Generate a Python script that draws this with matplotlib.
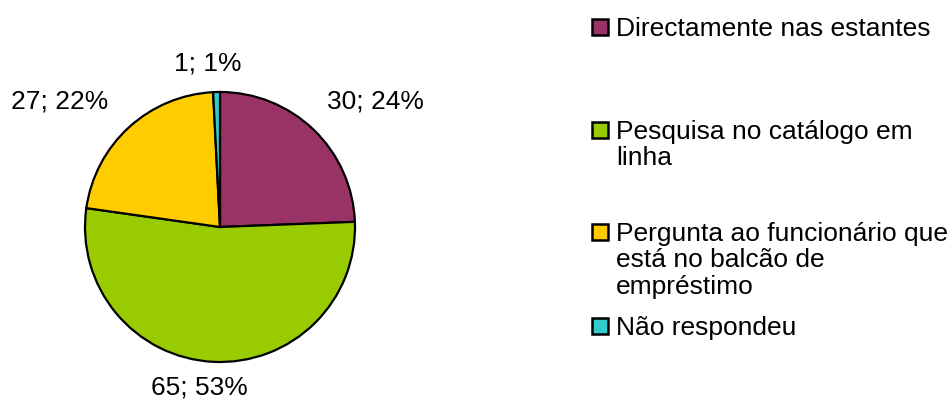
import matplotlib.pyplot as plt
from matplotlib.patches import Rectangle

plt.rcParams['font.family'] = ['Liberation Sans', 'DejaVu Sans']

# data
categories = ['Directamente nas estantes',
              'Pesquisa no catálogo em\nlinha',
              'Pergunta ao funcionário que\nestá no balcão de\nempréstimo',
              'Não respondeu']
values = [30, 65, 27, 1]
colors = ['#993366', '#99CC00', '#FFCC00', '#33CCCC']

# label positions (pie radius units) and legend first-line y (pixels from top)
label_pos = [(1.15, 0.93), (-0.15, -1.19), (-1.185, 0.93), (-0.09, 1.21)]
legend_y = [27, 130, 232, 326]

W, H = 952, 403
fig = plt.figure(figsize=(W / 100, H / 100), dpi=100)
cx, cy, r = 220, 227, 135
ax = fig.add_axes([(cx - r) / W, (H - cy - r) / H, 2 * r / W, 2 * r / H])

total = sum(values)
ax.pie(values, colors=colors, startangle=90, counterclock=False,
       wedgeprops=dict(edgecolor='black', linewidth=1.6))
ax.set_xlim(-1, 1)
ax.set_ylim(-1, 1)
ax.set_aspect('equal')
ax.axis('off')

for v, (x, y) in zip(values, label_pos):
    ax.text(x, y, f'{v}; {round(100 * v / total)}%', fontsize=19,
            ha='center', va='center', clip_on=False)

# legend drawn by hand
for lab, col, y in zip(categories, colors, legend_y):
    fig.patches.append(Rectangle((592 / W, 1 - (y + 8) / H), 16 / W, 16 / H,
                                 facecolor=col, edgecolor='black', linewidth=1.8,
                                 transform=fig.transFigure))
    fig.text(616 / W, 1 - (y - 10) / H, lab, fontsize=19, ha='left', va='top',
             linespacing=1.12)

fig.savefig('out.png', dpi=100)
